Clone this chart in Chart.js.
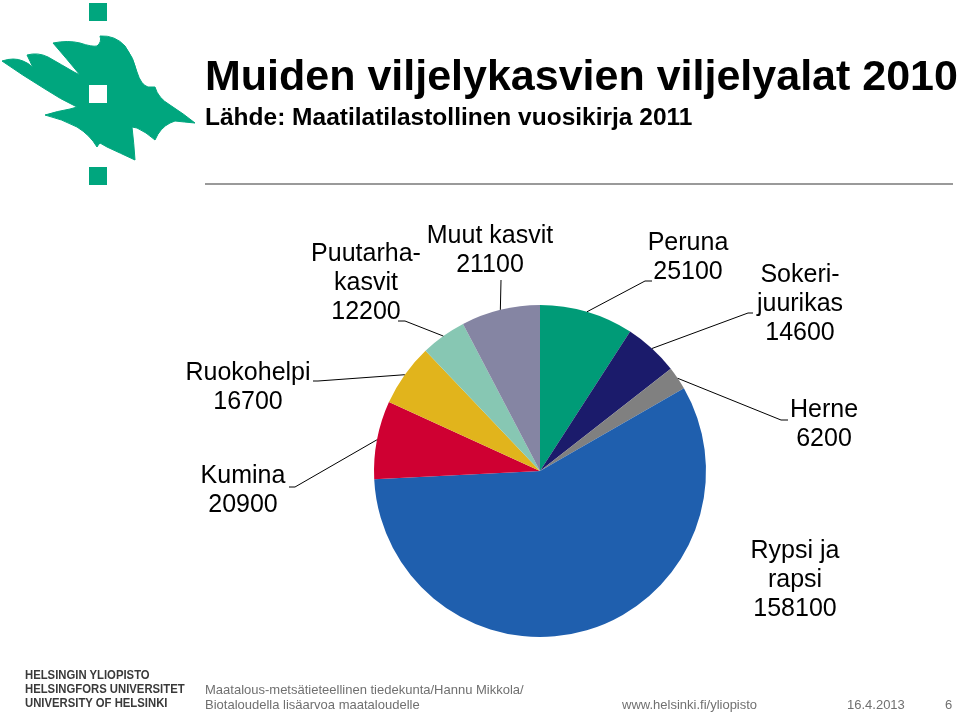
<!DOCTYPE html>
<html lang="fi">
<head>
    <meta charset="UTF-8">
    <title>Muiden viljelykasvien viljelyalat 2010</title>
    <script src="https://cdn.jsdelivr.net/npm/chart.js@4"></script>
    <style>
        html, body { margin: 0; padding: 0; background: #fff; }
        body { width: 960px; height: 712px; position: relative; overflow: hidden; font-family: "Liberation Sans", Arial, sans-serif; }
        #pieChart { position: absolute; left: 0; top: 0; }
        .logo { position: absolute; left: 0; top: 0; }
        .title { position: absolute; left: 205px; top: 51px; font-size: 43px; font-weight: bold; color: #000; white-space: nowrap; }
        .subtitle { position: absolute; left: 205px; top: 103px; font-size: 24.5px; font-weight: bold; color: #000; white-space: nowrap; }
        .rule { position: absolute; left: 205px; top: 183px; width: 748px; height: 0; border-top: 2px solid #9a9a9a; }
        .uni { position: absolute; left: 25px; top: 668px; font-size: 13px; font-weight: bold; color: #3a3a3a; line-height: 14px; transform: scaleX(0.87); transform-origin: left top; white-space: nowrap; }
        .foot { position: absolute; font-size: 13px; color: #707070; line-height: 15px; white-space: nowrap; }
    </style>
</head>
<body>
    <canvas id="pieChart" width="960" height="712"></canvas>

    <!-- logo -->
    <svg class="logo" width="200" height="190" viewBox="0 0 200 190">
        <rect x="89" y="3" width="18" height="18" fill="#00A67E"/>
        <path fill="#00A67E" stroke="#00A67E" stroke-width="1" stroke-linejoin="round" d="M2,61
            Q14,57 23,61 Q29,63 33,68 Q30,61 27,55
            Q38,52 48,57 Q62,65 74,72 L80,75 Q66,58 53,43
            Q68,40 80,43 Q92,47 97,46 Q102,42 100,36
            Q115,35 125,46 Q134,58 137,72 Q141,85 148,87 L155,87
            Q158,98 170,105 Q184,114 195,123
            Q184,122 175,121 L170,123 Q160,128 155,140
            Q146,132 137,128 L132,127 Q134,144 135,160
            Q120,153 107,147 L100,143 Q98,145 97,147
            Q90,135 77,127 Q62,119 45,115
            Q58,111 70,109 L77,107
            Q60,99 45,89 Q22,75 2,61 Z"/>
        <rect x="89" y="85" width="18" height="18" fill="#fff"/>
        <rect x="89" y="167" width="18" height="18" fill="#00A67E"/>
    </svg>

    <div class="title">Muiden viljelykasvien viljelyalat 2010</div>
    <div class="subtitle">Lähde: Maatilatilastollinen vuosikirja 2011</div>
    <div class="rule"></div>

    <div class="uni">HELSINGIN YLIOPISTO<br>HELSINGFORS UNIVERSITET<br>UNIVERSITY OF HELSINKI</div>
    <div class="foot" style="left:205px; top:682px;">Maatalous-metsätieteellinen tiedekunta/Hannu Mikkola/<br>Biotaloudella lisäarvoa maataloudelle</div>
    <div class="foot" style="left:622px; top:697px;">www.helsinki.fi/yliopisto</div>
    <div class="foot" style="left:847px; top:697px;">16.4.2013</div>
    <div class="foot" style="left:945px; top:697px;">6</div>

    <script>
        // Kasvit myötäpäivään ylhäältä alkaen
        const kasvit = ['Peruna', 'Sokerijuurikas', 'Herne', 'Rypsi ja rapsi', 'Kumina', 'Ruokohelpi', 'Puutarhakasvit', 'Muut kasvit'];
        // Viljelyala (ha)
        const alat = [25100, 14600, 6200, 158100, 20900, 16700, 12200, 21100];
        // Nimiöiden rivit (tavutettuna kuten kuvassa)
        const nimiot = [
            ['Peruna', '25100'],
            ['Sokeri-', 'juurikas', '14600'],
            ['Herne', '6200'],
            ['Rypsi ja', 'rapsi', '158100'],
            ['Kumina', '20900'],
            ['Ruokohelpi', '16700'],
            ['Puutarha-', 'kasvit', '12200'],
            ['Muut kasvit', '21100']
        ];
        const varit = ['#009B77', '#1B1B6B', '#808080', '#1F5FAE', '#CF0032', '#E1B41C', '#87C7B3', '#8585A3'];

        // Nimiöiden sijoittelu: tekstin keskikohta, ensimmäinen rivi, viivan taite ja pää
        const sijainnit = [
            { x: 688, y: 243, taite: [645, 281], paa: [652, 281] },
            { x: 800, y: 275, taite: [748, 313], paa: [753, 313] },
            { x: 824, y: 410, taite: [781, 420], paa: [788, 420] },
            { x: 795, y: 551, taite: null, paa: null },
            { x: 243, y: 476, taite: [295, 487], paa: [289, 487] },
            { x: 248, y: 373, taite: [318, 381], paa: [313, 381] },
            { x: 366, y: 254, taite: [405, 321], paa: [398, 321] },
            { x: 490, y: 236, taite: [501, 280], paa: [501, 280] }
        ];
        const riviVali = 29;

        // Plugin joka piirtää nimiöt ja viivat
        const nimioPlugin = {
            id: 'nimiot',
            afterDraw(chart) {
                const ctx = chart.ctx;
                const meta = chart.getDatasetMeta(0);
                ctx.save();
                ctx.strokeStyle = '#000';
                ctx.lineWidth = 1;
                meta.data.forEach((arc, i) => {
                    const p = arc.getProps(['x', 'y', 'startAngle', 'endAngle', 'outerRadius'], true);
                    const s = sijainnit[i];
                    if (s.taite) {
                        const mid = (p.startAngle + p.endAngle) / 2;
                        const ax = p.x + Math.cos(mid) * p.outerRadius;
                        const ay = p.y + Math.sin(mid) * p.outerRadius;
                        ctx.beginPath();
                        ctx.moveTo(ax, ay);
                        ctx.lineTo(s.taite[0], s.taite[1]);
                        ctx.lineTo(s.paa[0], s.paa[1]);
                        ctx.stroke();
                    }
                    ctx.fillStyle = '#000';
                    ctx.font = '25px "Liberation Sans", Arial, sans-serif';
                    ctx.textAlign = 'center';
                    ctx.textBaseline = 'middle';
                    nimiot[i].forEach((rivi, j) => {
                        ctx.fillText(rivi, s.x, s.y + j * riviVali);
                    });
                });
                ctx.restore();
            }
        };

        new Chart(document.getElementById('pieChart').getContext('2d'), {
            type: 'pie',
            data: {
                labels: kasvit,
                datasets: [{
                    data: alat,
                    backgroundColor: varit,
                    borderWidth: 0
                }]
            },
            options: {
                responsive: false,
                animation: false,
                layout: { padding: { left: 374, right: 254, top: 305, bottom: 75 } },
                plugins: {
                    legend: { display: false },
                    tooltip: { enabled: false }
                }
            },
            plugins: [nimioPlugin]
        });
    </script>
</body>
</html>
